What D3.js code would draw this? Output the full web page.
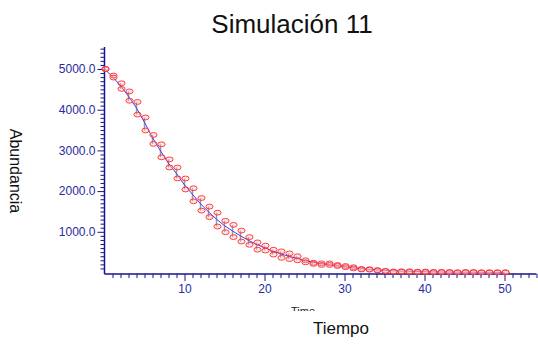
<!DOCTYPE html>
<html>
<head>
<meta charset="utf-8">
<script src="https://cdn.jsdelivr.net/npm/d3@7"></script>
<style>
  html, body { margin: 0; padding: 0; background: #fff; }
  svg { display: block; font-family: Arial, "Liberation Sans", sans-serif; }
</style>
</head>
<body>
<svg id="chart" width="538" height="345"></svg>
<script>
// Time steps of the simulation
const times = d3.range(0, 51);

// Two replicate observations per time step (upper and lower)
const obsHigh = [5000, 4840, 4650, 4450, 4190, 3810, 3380, 3150, 2780, 2580,
                 2310, 2070, 1830, 1620, 1470, 1270, 1170, 1030, 870, 740,
                 660, 560, 520, 470, 400, 300, 240, 225, 225, 185,
                 160, 130, 86, 80, 60, 40, 25, 30, 30, 20,
                 25, 15, 15, 12, 5, 12, 12, 5, 5, 5, 5];
const obsLow  = [5000, 4790, 4510, 4220, 3880, 3490, 3160, 2830, 2580, 2310,
                 2040, 1750, 1520, 1360, 1130, 990, 870, 760, 680, 560,
                 540, 440, 360, 330, 300, 250, 210, 185, 185, 160,
                 130, 100, 74, 70, 50, 35, 18, 20, 15, 10,
                 10, 5, 8, 5, 2, 3, 4, 2, 2, 2, 2];

// Fitted abundance curve
const fitted  = [5000, 4810, 4590, 4330, 4040, 3690, 3310, 2990, 2680, 2430,
                 2150, 1920, 1690, 1490, 1310, 1150, 1020, 900, 790, 690,
                 610, 530, 460, 400, 350, 295, 255, 220, 195, 170,
                 145, 118, 95, 80, 65, 52, 42, 35, 29, 24,
                 20, 16, 13, 11, 9, 7, 6, 5, 4, 3, 3];

// Axis ticks
const yMajorTicks = [1000, 2000, 3000, 4000, 5000];
const yMinorTicks = d3.range(100, 5600, 100).filter(v => v % 1000 !== 0);
const xMajorTicks = [10, 20, 30, 40, 50];
const xMinorTicks = d3.range(1, 55).filter(v => v % 10 !== 0);

const title = "Simulación 11";
const xTitle = "Tiempo";
const xInnerTitle = "Time";
const yTitle = "Abundancia";

const axisColor = "#14148a";
const labelColor = "#2a2a9c";

const svg = d3.select("#chart");

const x = d3.scaleLinear().domain([0, 54]).range([104.5, 536.5]);
const y = d3.scaleLinear().domain([0, 5000]).range([272.5, 69]);

const yBottom = y(-38);
const yTop = y(5540);

// Y axis: minor ticks, then major ticks with labels
const yMinor = svg.append("g")
  .attr("transform", `translate(${x(0)},0)`)
  .call(d3.axisLeft(y).tickValues(yMinorTicks).tickSize(4).tickFormat(""));
const yMajor = svg.append("g")
  .attr("transform", `translate(${x(0)},0)`)
  .call(d3.axisLeft(y).tickValues(yMajorTicks).tickSize(7).tickPadding(2).tickFormat(d3.format(".1f")));

// X axis: minor ticks, then major ticks with labels
const xMinor = svg.append("g")
  .attr("transform", `translate(0,${yBottom})`)
  .call(d3.axisBottom(x).tickValues(xMinorTicks).tickSize(4).tickFormat(""));
const xMajor = svg.append("g")
  .attr("transform", `translate(0,${yBottom})`)
  .call(d3.axisBottom(x).tickValues(xMajorTicks).tickSize(7).tickPadding(3).tickFormat(d3.format("d")));

[yMinor, yMajor, xMinor, xMajor].forEach(g => {
  g.select(".domain").remove();
  g.selectAll(".tick line").attr("stroke", axisColor).attr("stroke-width", 1);
  g.selectAll(".tick text").attr("fill", labelColor).attr("font-size", 12)
    .attr("font-family", "Arial, 'Liberation Sans', sans-serif");
});

// Axis lines
svg.append("line")
  .attr("x1", x(0)).attr("x2", x(0)).attr("y1", yTop).attr("y2", yBottom)
  .attr("stroke", axisColor).attr("stroke-width", 1.5);
svg.append("line")
  .attr("x1", x(0)).attr("x2", x(54)).attr("y1", yBottom).attr("y2", yBottom)
  .attr("stroke", axisColor).attr("stroke-width", 1.5);

// Range bars joining the two replicates
svg.append("g").selectAll("line")
  .data(times)
  .join("line")
  .attr("x1", d => x(d)).attr("x2", d => x(d))
  .attr("y1", d => y(obsHigh[d])).attr("y2", d => y(obsLow[d]))
  .attr("stroke", "#9a9a9a").attr("stroke-width", 1.5);

// Fitted curve
svg.append("path")
  .datum(times)
  .attr("fill", "none")
  .attr("stroke", "#3a3aff")
  .attr("stroke-width", 1)
  .attr("d", d3.line().x(d => x(d)).y(d => y(fitted[d])));

// Replicate markers
const markers = svg.append("g");
[obsHigh, obsLow].forEach(series => {
  markers.append("g").selectAll("ellipse")
    .data(times)
    .join("ellipse")
    .attr("cx", d => x(d) + 1)
    .attr("cy", d => y(series[d]))
    .attr("rx", 3.6).attr("ry", 2.4)
    .attr("fill", "rgba(255,190,190,0.35)")
    .attr("stroke", "#ff2a2a")
    .attr("stroke-width", 0.9);
});

// Titles
svg.append("text")
  .attr("x", 292).attr("y", 33)
  .attr("text-anchor", "middle")
  .attr("font-size", 26)
  .attr("fill", "#111")
  .text(title);

svg.append("text")
  .attr("transform", "translate(10,171) rotate(90)")
  .attr("text-anchor", "middle")
  .attr("font-size", 16)
  .attr("fill", "#111")
  .text(yTitle);

svg.append("text")
  .attr("x", 341).attr("y", 334)
  .attr("text-anchor", "middle")
  .attr("font-size", 17)
  .attr("fill", "#111")
  .text(xTitle);

// Inner axis caption, partly hidden below its box
svg.append("clipPath").attr("id", "timeClip")
  .append("rect").attr("x", 270).attr("y", 298).attr("width", 70).attr("height", 13);
svg.append("text")
  .attr("clip-path", "url(#timeClip)")
  .attr("x", 303).attr("y", 315)
  .attr("text-anchor", "middle")
  .attr("font-size", 11)
  .attr("fill", "#222")
  .text(xInnerTitle);
</script>
</body>
</html>
